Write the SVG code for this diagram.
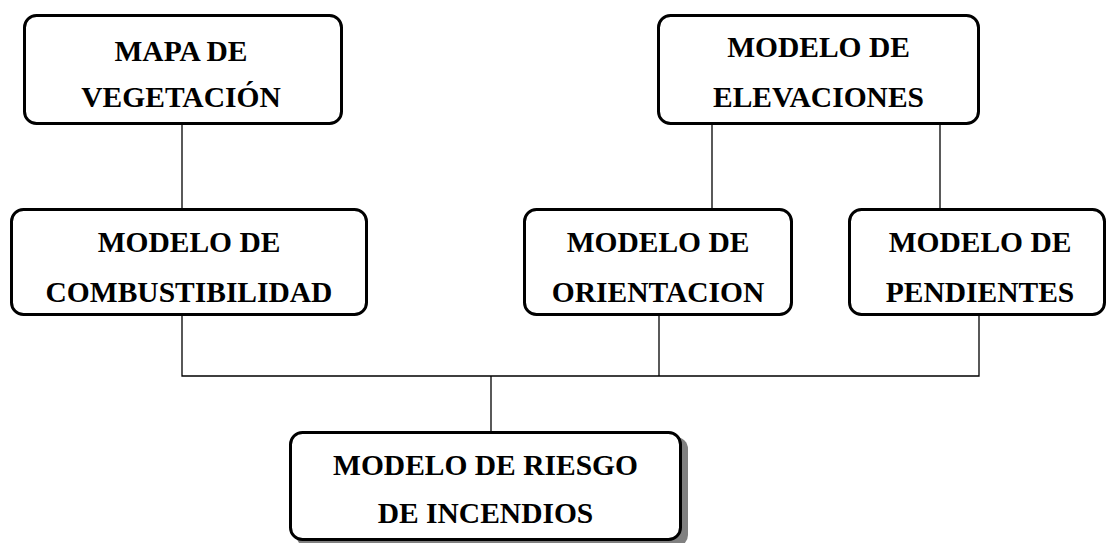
<svg xmlns="http://www.w3.org/2000/svg" width="1107" height="543" viewBox="0 0 1107 543">
<style>
.box{fill:#fff;stroke:#000;stroke-width:3}
.shadow{fill:#808080;stroke:none}
.t{font-family:"Liberation Serif","Times New Roman",serif;font-weight:bold;font-size:29.5px;fill:#000;text-anchor:middle}
.c{stroke:#000;stroke-width:1.3;fill:none}
</style>
<rect width="1107" height="543" fill="#fff"/>
<g id="connectors">
<line class="c" x1="182" y1="125" x2="182" y2="208"/>
<line class="c" x1="712" y1="125" x2="712" y2="208"/>
<line class="c" x1="940" y1="125" x2="940" y2="208"/>
<polyline class="c" points="182,316 182,376 979,376 979,316"/>
<line class="c" x1="659" y1="316" x2="659" y2="376"/>
<line class="c" x1="491" y1="376" x2="491" y2="431"/>
</g>
<g id="mapa-vegetacion">
<rect class="box" x="24.5" y="15.5" width="317" height="108" rx="12"/>
<text class="t" x="181" y="61">MAPA DE</text>
<text class="t" x="181" y="107">VEGETACIÓN</text>
</g>
<g id="modelo-elevaciones">
<rect class="box" x="658.5" y="15.5" width="320" height="108" rx="12"/>
<text class="t" x="818.5" y="57">MODELO DE</text>
<text class="t" x="818.5" y="107">ELEVACIONES</text>
</g>
<g id="modelo-combustibilidad">
<rect class="box" x="11.5" y="209.5" width="355" height="105" rx="12"/>
<text class="t" x="189" y="252">MODELO DE</text>
<text class="t" x="189" y="302">COMBUSTIBILIDAD</text>
</g>
<g id="modelo-orientacion">
<rect class="box" x="524.5" y="209.5" width="267" height="105" rx="12"/>
<text class="t" x="658" y="252">MODELO DE</text>
<text class="t" x="658" y="302">ORIENTACION</text>
</g>
<g id="modelo-pendientes">
<rect class="box" x="849.5" y="209.5" width="255" height="105" rx="12"/>
<text class="t" x="980" y="252">MODELO DE</text>
<text class="t" x="980" y="302">PENDIENTES</text>
</g>
<g id="modelo-riesgo">
<rect class="shadow" x="296" y="437" width="392" height="110" rx="12"/>
<rect class="box" x="290.5" y="432.5" width="390" height="107" rx="12"/>
<text class="t" x="485.5" y="475">MODELO DE RIESGO</text>
<text class="t" x="485.5" y="523">DE INCENDIOS</text>
</g>
</svg>
